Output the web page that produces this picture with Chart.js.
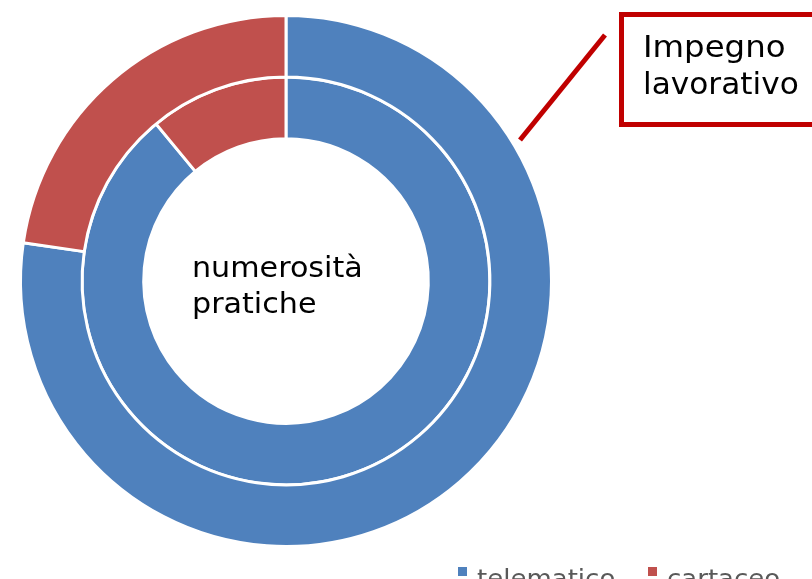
<!DOCTYPE html>
<html>
<head>
<meta charset="utf-8">
<script src="https://cdn.jsdelivr.net/npm/chart.js@4/dist/chart.umd.min.js"></script>
<style>
  html, body { margin: 0; padding: 0; background: #fff; }
  #wrap { width: 812px; height: 579px; }
</style>
</head>
<body>
<div id="wrap"><canvas id="chart" width="812" height="579"></canvas></div>
<script>
// data
const categories = ["telematico", "cartaceo"];
const impegnoLavorativo = [77.3, 22.7];   // outer ring
const numerositaPratiche = [89, 11];      // inner ring
const ringLabels = ["Impegno lavorativo", "numerosità pratiche"];
const colors = ["#4F81BD", "#C0504D"];

const FONT = "'DejaVu Sans', sans-serif";

// the original font (Century Gothic) is wider, so stretch text a bit
function wideText(ctx, text, x, y, stretch) {
  ctx.save();
  ctx.translate(x, y);
  ctx.scale(stretch, 1);
  ctx.fillText(text, 0, 0);
  ctx.restore();
}

// annotations, centre text and legend drawn on top of the chart
const extras = {
  id: "extras",
  afterDraw(chart) {
    const ctx = chart.ctx;
    const meta = chart.getDatasetMeta(1).data[0];
    ctx.save();
    ctx.textBaseline = "alphabetic";
    ctx.textAlign = "left";

    // centre label (inner ring)
    ctx.fillStyle = "#000";
    ctx.font = "29px " + FONT;
    const words = ringLabels[1].split(" ");
    wideText(ctx, words[0], meta.x - 94, meta.y - 4, 1.04);
    wideText(ctx, words[1], meta.x - 94, meta.y + 32, 1.04);

    // callout box for outer ring
    ctx.strokeStyle = "#C00000";
    ctx.lineWidth = 5;
    ctx.strokeRect(621.5, 14.5, 220, 110);
    ctx.beginPath();
    ctx.moveTo(605, 35);
    ctx.lineTo(520, 140);
    ctx.stroke();
    const w2 = ringLabels[0].split(" ");
    ctx.fillStyle = "#000";
    ctx.font = "30px " + FONT;
    wideText(ctx, w2[0], 643, 57, 1.08);
    wideText(ctx, w2[1], 643, 94, 1.04);

    // legend at bottom
    ctx.font = "25px " + FONT;
    const legendX = [458, 648];
    categories.forEach((c, i) => {
      ctx.fillStyle = colors[i];
      ctx.fillRect(legendX[i], 567, 9, 9);
      ctx.fillStyle = "#595959";
      wideText(ctx, c, legendX[i] + 19, 587, 1.04);
    });
    ctx.restore();
  }
};

new Chart(document.getElementById("chart"), {
  type: "doughnut",
  data: {
    labels: categories,
    datasets: [
      { label: ringLabels[0], data: impegnoLavorativo, backgroundColor: colors, borderColor: "#fff", borderWidth: 3 },
      { label: ringLabels[1], data: numerositaPratiche, backgroundColor: colors, borderColor: "#fff", borderWidth: 3 }
    ]
  },
  options: {
    responsive: false,
    animation: false,
    cutout: "53.6%",
    layout: { padding: { left: 19, right: 259, top: 14, bottom: 31 } },
    plugins: {
      legend: { display: false },
      tooltip: { enabled: false }
    }
  },
  plugins: [extras]
});
</script>
</body>
</html>
